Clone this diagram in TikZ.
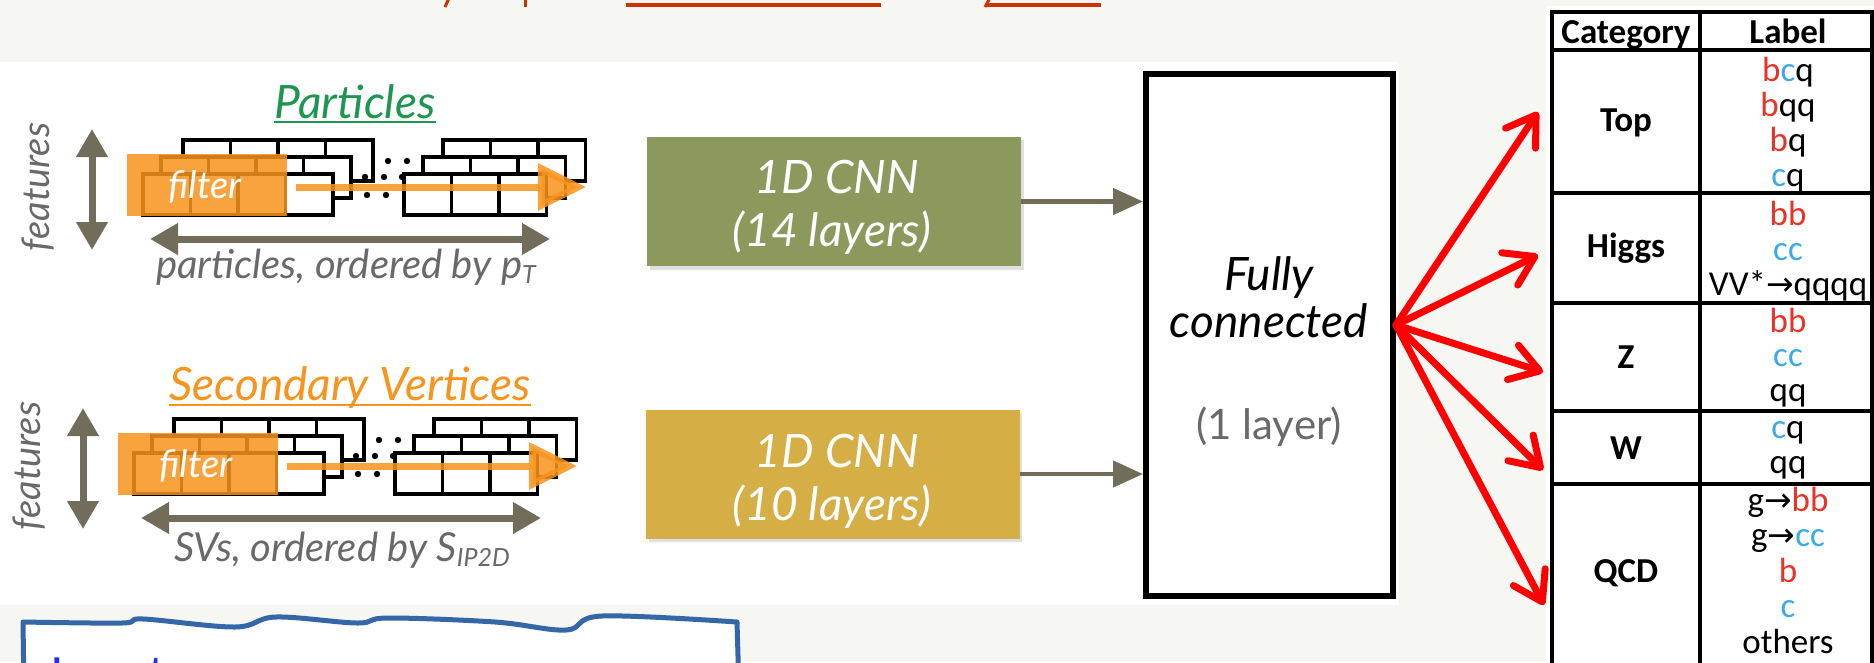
\documentclass[tikz,border=0pt]{standalone}
\usepackage{fontspec}
\setmainfont{Carlito}
\newfontfamily\gillf{Lato}
\newfontfamily\calf{Carlito}
\newfontfamily\djvf{DejaVu Sans}
\usetikzlibrary{arrows.meta}

\definecolor{bgc}{RGB}{246,246,243}
\definecolor{titlered}{RGB}{204,51,0}
\definecolor{partgreen}{RGB}{30,150,80}
\definecolor{svorange}{RGB}{247,148,29}
\definecolor{filtorange}{RGB}{247,148,29}
\definecolor{arrgray}{RGB}{114,109,90}
\definecolor{labgray}{RGB}{105,105,105}
\definecolor{cnngreen}{RGB}{139,154,92}
\definecolor{cnnyellow}{RGB}{213,175,70}
\definecolor{tred}{RGB}{235,50,40}
\definecolor{tblue}{RGB}{60,170,230}
\definecolor{inpblue}{RGB}{52,102,168}
\definecolor{inptext}{RGB}{40,40,255}

\newcommand\redt[1]{\textcolor{tred}{#1}}
\newcommand\bluet[1]{\textcolor{tblue}{#1}}
\newcommand\arr{{\djvf\fontsize{33}{35}\selectfont →}}

\tikzset{
  cellbox/.style={draw=black, line width=3.5pt, fill=white},
  dblarrow/.style={draw=arrgray, line width=7pt, arrows={Triangle[length=28pt,width=30pt]-Triangle[length=28pt,width=30pt]}},
  grayarrow/.style={draw=arrgray, line width=4.5pt, arrows={-Triangle[length=30pt,width=26pt]}},
  redarrow/.style={draw=red, line width=7pt, line cap=round, arrows={-Straight Barb[length=28pt,width=36pt,round]}},
  orangearrow/.style={draw=filtorange, fill=filtorange, opacity=0.85, line width=7pt, arrows={-Triangle[length=48pt,width=46pt]}},
  featfont/.style={font=\gillf\itshape\fontsize{38}{40}\selectfont, text=labgray, inner sep=0pt},
  filtfont/.style={font=\gillf\itshape\fontsize{38}{40}\selectfont, text=white, inner sep=0pt},
  titlefont/.style={font=\gillf\itshape\fontsize{46}{50}\selectfont, inner sep=0pt},
  labfont/.style={font=\gillf\itshape\fontsize{40}{42}\selectfont, text=labgray, inner sep=0pt},
  cnnbox/.style={minimum width=374pt, minimum height=129pt, inner sep=0pt},
  cnnfont/.style={font=\gillf\itshape\fontsize{46}{54}\selectfont, text=white, inner sep=0pt, anchor=base},
  fcfont/.style={font=\gillf\itshape\fontsize{46}{50}\selectfont, inner sep=0pt},
  tline/.style={line width=3.5pt, line cap=rect},
  tl/.style={font=\calf\fontsize{35}{36}\selectfont, anchor=base, inner sep=0pt},
  tc/.style={font=\calf\bfseries\fontsize{35}{36}\selectfont, anchor=base, inner sep=0pt},
}

\newcommand\featpanel[1]{%
  \node[featfont, rotate=90] (#1feat) at (38,187) {features};
  \coordinate (#1va) at (92,129);
  \coordinate (#1vb) at (92,250);
  \draw[dblarrow] (#1va) -- (#1vb);
  \foreach \cx/\cy/\cn in {183/140/4,443/140/3,161/157/4,423/157/3,143/174/4,404/174/3}{
    \foreach \ck in {1,...,\cn}{
      \draw[cellbox] ({\cx+(\ck-1)*47.5},\cy) rectangle ++(47.5,41);
    }
  }
  \foreach \cx/\cy in {388/161,407/161,365/177,384/177,402/177,367/195,386/195}{
    \fill (\cx,\cy) circle[radius=3.2pt];
  }
  \fill[filtorange, opacity=0.85] (127,154) rectangle (287,216);
  \node[filtfont] (#1filt) at (205,187) {filter};
  \coordinate (#1oa) at (296,187);
  \coordinate (#1ob) at (586,187);
  \draw[orangearrow] (#1oa) -- (#1ob);
  \coordinate (#1ha) at (150,239);
  \coordinate (#1hb) at (550,239);
  \draw[dblarrow] (#1ha) -- (#1hb);
}

\begin{document}
\begin{tikzpicture}[x=1pt,y=-1pt]
\useasboundingbox (0,0) rectangle (1874,662);
\clip (0,0) rectangle (1874,662);
\fill[bgc] (0,0) rectangle (1874,662);
\fill[white] (0,62) rectangle (1399,605);

% fragments of the cut-off title
\draw[titlered, line width=3pt] (449,-2) -- (445,7);
\draw[titlered, line width=3pt] (525,-2) -- (525,7);
\draw[titlered, line width=3.5pt] (626,5) -- (881,5);
\draw[titlered, line width=3pt] (990,-2) -- (985,7);
\draw[titlered, line width=3.5pt] (987,5) -- (1101,5);

% input panels
\featpanel{p}
\begin{scope}[shift={(-9,279)}]
  \featpanel{s}
\end{scope}

\node[titlefont, text=partgreen, anchor=base] (ptitle) at (355,118) {Particles};
\draw[partgreen, line width=2.5pt] ([yshift=-4pt]ptitle.base west) -- ([yshift=-4pt]ptitle.base east);
\node[titlefont, text=svorange, anchor=base] (stitle) at (350,400) {Secondary Vertices};
\draw[svorange, line width=2.5pt] ([yshift=-5pt]stitle.base west) -- ([yshift=-5pt]stitle.base east);

\node[labfont, anchor=base] (plab) at (346,278) {particles, ordered by p\raisebox{-5pt}{\fontsize{25}{25}\selectfont T}};
\node[labfont, anchor=base] (slab) at (342,561) {SVs, ordered by S\raisebox{-5pt}{\fontsize{25}{25}\selectfont IP2D}};

% CNN boxes
\fill[black, opacity=0.12] (650,140) rectangle (1024,270);
\fill[black, opacity=0.12] (649,413) rectangle (1022,542);
\node[cnnbox, fill=cnngreen] (cnn1) at (834,201.5) {};
\node[cnnbox, fill=cnnyellow] (cnn2) at (833,474) {};
\node[cnnfont] (cnn1a) at (837,193) {1D CNN};
\node[cnnfont] (cnn1b) at (832,246) {(14 layers)};
\node[cnnfont] (cnn2a) at (837,467) {1D CNN};
\node[cnnfont] (cnn2b) at (832,520) {(10 layers)};

% fully connected
\node[draw, line width=6pt, minimum width=247pt, minimum height=522pt, inner sep=0pt, fill=white] (fc) at (1269.5,335) {};
\node[fcfont] (fc1) at (1269,277) {Fully};
\node[fcfont] (fc2) at (1269,321) {connected};
\node[font=\gillf\fontsize{42}{46}\selectfont, text=labgray, inner sep=0pt] (fc3) at (1269,427) {(1 layer)};

\draw[grayarrow] (cnn1.east) -- (cnn1.east -| fc.west);
\draw[grayarrow] (cnn2.east) -- (cnn2.east -| fc.west);

% table
\fill[white] (1546,6) rectangle (1874,662);
\draw[tline] (1552,12) -- (1872,12);
\draw[tline] (1552,12) -- (1552,665);
\draw[tline] (1700,12) -- (1700,665);
\draw[tline] (1872,12) -- (1872,665);
\foreach \yy in {50,193,303,411,484} {\draw[tline] (1552,\yy) -- (1872,\yy);}

\node[tc] (hcat) at (1626,43) {Category};
\node[tc] (hlab) at (1788,43) {Label};
\node[tc] (ctop) at (1626,131) {Top};
\node[tl] (l1) at (1788,81) {\redt{b}\bluet{c}q};
\node[tl] (l2) at (1788,116) {\redt{b}qq};
\node[tl] (l3) at (1788,151) {\redt{b}q};
\node[tl] (l4) at (1788,186) {\bluet{c}q};
\node[tc] (chig) at (1626,257) {Higgs};
\node[tl] (l5) at (1788,225) {\redt{bb}};
\node[tl] (l6) at (1788,260) {\bluet{cc}};
\node[tl] (l7) at (1788,295) {VV*\arr qqqq};
\node[tc] (cz) at (1626,368) {Z};
\node[tl] (l8) at (1788,332) {\redt{bb}};
\node[tl] (l9) at (1788,366.5) {\bluet{cc}};
\node[tl] (l10) at (1788,401) {qq};
\node[tc] (cw) at (1626,459) {W};
\node[tl] (l11) at (1788,438.5) {\bluet{c}q};
\node[tl] (l12) at (1788,473.5) {qq};
\node[tc] (cqcd) at (1626,582) {QCD};
\node[tl] (l13) at (1788,511) {g\arr\redt{bb}};
\node[tl] (l14) at (1788,546.5) {g\arr\bluet{cc}};
\node[tl] (l15) at (1788,582) {\redt{b}};
\node[tl] (l16) at (1788,617.5) {\bluet{c}};
\node[tl] (l17) at (1788,653) {others};

% red output arrows
\coordinate (o) at ([yshift=10pt]fc.east);
\coordinate (t1) at (1538,112);
\coordinate (t2) at (1538,255);
\coordinate (t3) at (1543,372);
\coordinate (t4) at (1543,470);
\coordinate (t5) at (1544,605);
\foreach \tt in {t1,t2,t3,t4,t5} {\draw[redarrow] (o) -- (\tt);}

% input box at the bottom
\filldraw[fill=white, draw=inpblue, line width=5pt, line join=round] (24,690) -- plot[smooth, tension=0.6] coordinates {(23,622) (122,623) (143,619) (235,627) (276,617) (357,623) (388,618) (495,622) (566,630) (602,616) (737,622)} -- (739,690);
\node[font=\calf\fontsize{54}{60}\selectfont, text=inptext, anchor=base west, inner sep=0pt] (inp) at (50,692) {Input};
\end{tikzpicture}
\end{document}
